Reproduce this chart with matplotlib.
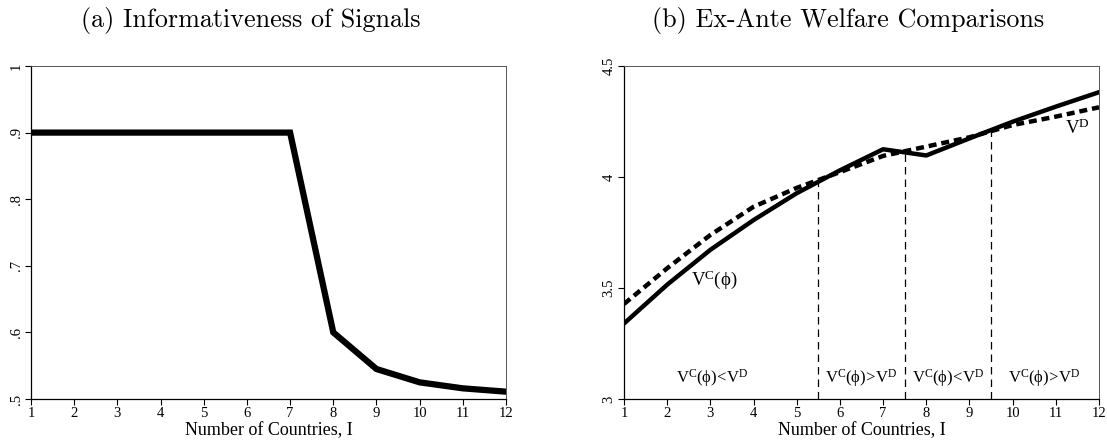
import matplotlib
matplotlib.use("Agg")
import matplotlib.pyplot as plt

# panel (a)
countries = [1, 2, 3, 4, 5, 6, 7, 8, 9, 10, 11, 12]
informativeness = [0.9, 0.9, 0.9, 0.9, 0.9, 0.9, 0.9, 0.6, 0.545, 0.525, 0.516, 0.511]

# panel (b)
v_central = [3.34, 3.515, 3.672, 3.806, 3.927, 4.03, 4.125, 4.097, 4.174, 4.249, 4.317, 4.382]
v_decentral = [3.428, 3.589, 3.739, 3.866, 3.951, 4.022, 4.095, 4.137, 4.179, 4.234, 4.272, 4.314]
cutoffs = [5.5, 7.5, 9.5]
cutoff_tops = [3.972, 4.112, 4.208]
region_labels = [r'$\mathrm{V^{C}(ϕ)\!<\!V^{D}}$', r'$\mathrm{V^{C}(ϕ)\!>\!V^{D}}$',
                 r'$\mathrm{V^{C}(ϕ)\!<\!V^{D}}$', r'$\mathrm{V^{C}(ϕ)\!>\!V^{D}}$']
region_x = [3.05, 6.5, 8.5, 10.72]

plt.rcParams['font.family'] = ['Liberation Serif', 'DejaVu Serif']
plt.rcParams['mathtext.fontset'] = 'custom'
plt.rcParams['mathtext.rm'] = 'Liberation Serif'
plt.rcParams['mathtext.it'] = 'Liberation Serif:italic'

fig = plt.figure(figsize=(11.07, 4.40), dpi=100)
ax1 = fig.add_axes([0.028, 0.0932, 0.4291, 0.7568])
ax2 = fig.add_axes([0.5637, 0.0932, 0.4291, 0.7568])


def style(ax):
    ax.set_xlim(1, 12)
    ax.set_xticks(countries)
    ax.tick_params(axis='both', direction='out', length=4, width=0.8, labelsize=10.5, pad=2)
    for lbl in ax.get_yticklabels():
        lbl.set_rotation(90)
        lbl.set_va('center')
    for s in ['top', 'right']:
        ax.spines[s].set_color('#555555')
        ax.spines[s].set_linewidth(0.7)
    for s in ['left', 'bottom']:
        ax.spines[s].set_linewidth(0.9)
    ax.set_xlabel('Number of Countries, I', fontsize=13, labelpad=1.5)


ax1.plot(countries, informativeness, color='black', lw=4.5, solid_joinstyle='miter')
ax1.set_ylim(0.5, 1)
ax1.set_yticks([0.5, 0.6, 0.7, 0.8, 0.9, 1.0])
ax1.set_yticklabels(['.5', '.6', '.7', '.8', '.9', '1'])
style(ax1)

ax2.plot(countries, v_central, color='black', lw=3.2)
ax2.plot(countries, v_decentral, color='black', lw=3.2, linestyle=(0, (1.8, 1.1)))
for c, top in zip(cutoffs, cutoff_tops):
    ax2.plot([c, c], [3, top], color='black', lw=0.9, linestyle=(0, (6, 4)))
for x, t in zip(region_x, region_labels):
    ax2.text(x, 3.095, t, ha='center', va='center', fontsize=12)
ax2.text(3.08, 3.536, r'$\mathrm{V^{C}(ϕ)}$', ha='center', va='center', fontsize=13.5)
ax2.text(11.5, 4.22, r'$\mathrm{V^{D}}$', ha='center', va='center', fontsize=13.5)
ax2.set_ylim(3, 4.5)
ax2.set_yticks([3, 3.5, 4, 4.5])
ax2.set_yticklabels(['3', '3.5', '4', '4.5'])
style(ax2)

fig.text(251 / 1107, 1 - 20 / 440, '(a) Informativeness of Signals', family='cmr10',
         fontsize=18.8, ha='center', va='center')
fig.text(848 / 1107, 1 - 20 / 440, '(b) Ex-Ante Welfare Comparisons', family='cmr10',
         fontsize=18.8, ha='center', va='center')

fig.savefig('out.png', dpi=100)
